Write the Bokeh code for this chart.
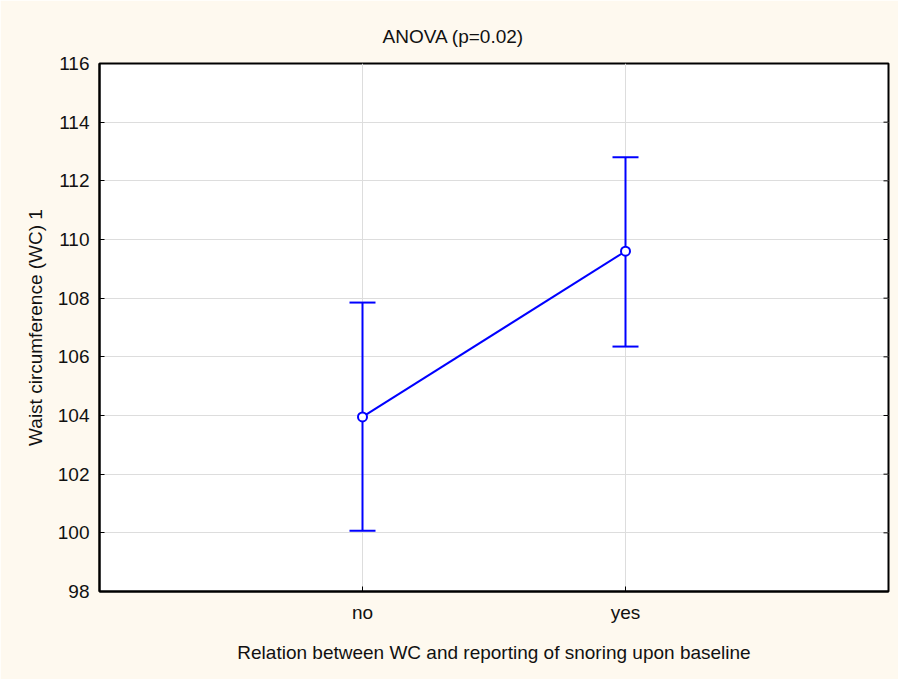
import math
from bokeh.plotting import figure
from bokeh.models import ColumnDataSource, Whisker, TeeHead, FixedTicker, Range1d, Title
from bokeh.embed import file_html
from bokeh.resources import INLINE

# Group means of waist circumference with confidence limits
categories = ["no", "yes"]
means = [103.95, 109.6]
upper = [107.85, 112.8]
lower = [100.07, 106.35]
y_ticks = [98, 100, 102, 104, 106, 108, 110, 112, 114, 116]

xpos = [i + 1 for i in range(len(categories))]
x_max = len(categories) + 1
src = ColumnDataSource(dict(x=xpos, mean=means, upper=upper, lower=lower))

FONT = "Liberation Sans"
BG = "#FEF9EF"
BLUE = "#0000FF"
TXT = "#111111"

p = figure(width=898, height=679, output_backend="svg", toolbar_location=None,
           x_range=Range1d(0, x_max), y_range=Range1d(98, 116),
           min_border_left=99, min_border_right=10, min_border_top=63, min_border_bottom=88)
p.title = None
p.add_layout(Title(text="ANOVA (p=0.02)", align="left", offset=283,
                   text_font=FONT, text_font_size="19px", text_font_style="normal",
                   text_color=TXT, standoff=33), "above")

p.background_fill_color = "white"
p.border_fill_color = BG
p.outline_line_color = "black"
p.outline_line_width = 2

# axes
p.xaxis.ticker = FixedTicker(ticks=xpos)
p.xaxis.major_label_overrides = {x: c for x, c in zip(xpos, categories)}
p.yaxis.ticker = FixedTicker(ticks=y_ticks)
for ax in (p.xaxis[0], p.yaxis[0]):
    ax.axis_line_color = "black"
    ax.axis_line_width = 2
    ax.major_tick_in = 5
    ax.major_tick_out = 0
    ax.major_tick_line_color = "black"
    ax.major_tick_line_width = 1
    ax.minor_tick_line_color = None
    ax.major_label_text_font = FONT
    ax.major_label_text_font_size = "19px"
    ax.major_label_text_color = TXT
    ax.axis_label_text_font = FONT
    ax.axis_label_text_font_size = "19px"
    ax.axis_label_text_font_style = "normal"
    ax.axis_label_text_color = TXT

p.xaxis.axis_label = "Relation between WC and reporting of snoring upon baseline"
p.xaxis.major_label_standoff = 10
p.xaxis.axis_label_standoff = 16
p.yaxis.axis_label = "Waist circumference (WC) 1"
p.yaxis.major_label_standoff = 10
p.yaxis.axis_label_standoff = 9

# inward tick marks on the right frame edge
p.ray(x=[x_max] * len(y_ticks), y=y_ticks, length=5, length_units="screen",
      angle=math.pi, line_color="black", line_width=1)

p.grid.grid_line_color = "#DDDDDD"
p.grid.grid_line_width = 1
p.xgrid.ticker = FixedTicker(ticks=xpos)
p.ygrid.ticker = FixedTicker(ticks=y_ticks)

# error bars
w = Whisker(source=src, base="x", upper="upper", lower="lower", dimension="height",
            line_color=BLUE, line_width=2,
            upper_head=TeeHead(size=26, line_color=BLUE, line_width=2),
            lower_head=TeeHead(size=26, line_color=BLUE, line_width=2))
p.add_layout(w)

p.line("x", "mean", source=src, line_color=BLUE, line_width=2)
p.scatter("x", "mean", source=src, marker="circle", size=9, fill_color="white",
          line_color=BLUE, line_width=2)

open("out.html", "w").write(file_html(p, INLINE))
